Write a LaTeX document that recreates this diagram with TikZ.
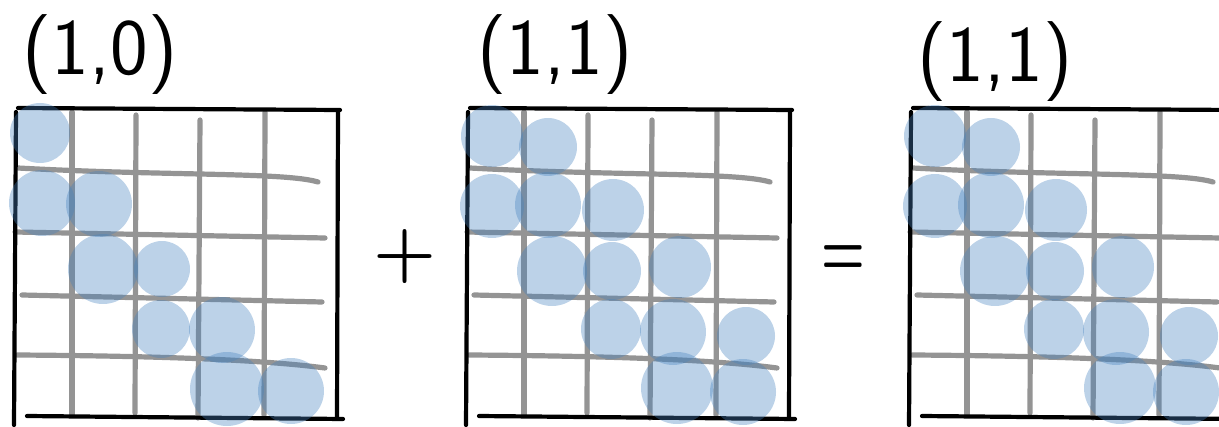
\documentclass[tikz,border=0pt]{standalone}
\usepackage{graphicx}
\usepackage{xcolor}
\usetikzlibrary{positioning}
\definecolor{dotblue}{RGB}{70,130,190}

\begin{document}
\begin{tikzpicture}[
  x=0.5pt,y=-0.5pt,
  gridline/.style={draw=black!42,line width=2.6pt,line cap=round},
  frame/.style={draw=black,line width=2.1pt,line cap=round},
  dot/.style={fill=dotblue,fill opacity=0.36},
  pairlabel/.style={font=\sffamily\fontsize{40}{40}\selectfont,inner sep=0pt},
  op/.style={font=\bfseries\fontsize{36}{36}\selectfont,inner sep=0pt}]
\clip (0,0) rectangle (1219,427);
% the three 5x5 grids
\foreach \gx in {15,467,910}{
  \begin{scope}[xshift=\gx*0.5pt]
    \draw[gridline] (57,112) -- (57,415);
    \draw[gridline] (121,115) -- (120,413);
    \draw[gridline] (185,120) -- (183,418);
    \draw[gridline] (250,112) -- (249,415);
    \draw[gridline] (3,168) .. controls (150,176) and (270,172) .. (303,182);
    \draw[gridline] (0,232) -- (310,238);
    \draw[gridline] (7,295) -- (307,302);
    \draw[gridline] (2,355) .. controls (150,356) and (250,360) .. (310,368);
    \draw[frame] (3,108) -- (325,110);
    \draw[frame] (1,112) -- (-1,425);
    \draw[frame] (323,112) -- (322,418);
    \draw[frame] (12,416) -- (328,419);
  \end{scope}
}
% band (1,0)
\begin{scope}[xshift=7.5pt]
  \foreach \cx/\cy/\r in {25/133/30,27/203/33,84/204/33,88/269/35,147/269/28,
      146/329/29,207/330/33,212/389/37,276/391/33}
    \fill[dot] (\cx,\cy) circle (\r);
\end{scope}
% band (1,1), twice
\foreach \gx in {467,910}{
  \begin{scope}[xshift=\gx*0.5pt]
    \foreach \cx/\cy/\r in {25/136/31,81/147/29,25/206/32,81/205/33,146/210/31,
        85/271/35,145/271/29,213/267/31,144/329/30,206/332/33,279/336/29,
        210/388/36,276/392/33}
      \fill[dot] (\cx,\cy) circle (\r);
  \end{scope}
}
\node[pairlabel] (lab1) at (100,55) {(1,0)};
\node[pairlabel] (lab2) at (555,55) {(1,1)};
\node[pairlabel] (lab3) at (995,62) {(1,1)};
\node[op] (plus) at (405,257) {+};
\node[op,font=\bfseries\fontsize{25}{25}\selectfont] (equals) at (843,261) {\scalebox{1}[1.6]{=}};
\end{tikzpicture}
\end{document}
